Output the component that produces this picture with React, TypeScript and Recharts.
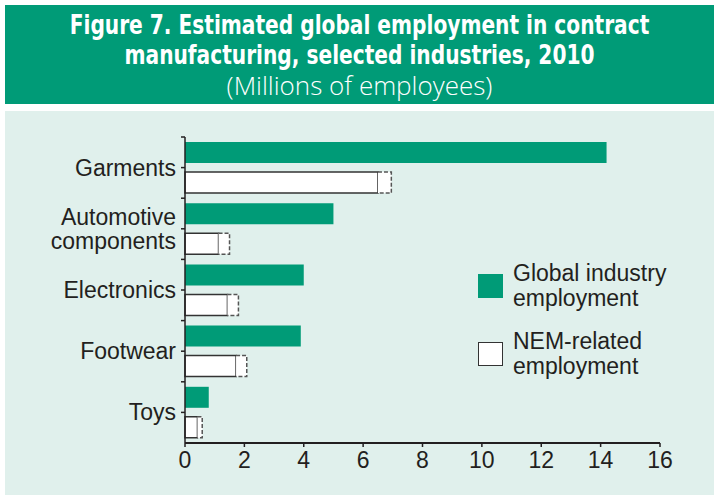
import React from 'react';
import { BarChart, Bar, XAxis, YAxis } from 'recharts';

const categories = ['Garments', 'Automotive components', 'Electronics', 'Footwear', 'Toys'];
const globalEmployment = [14.2, 5.0, 4.0, 3.9, 0.8];
const nemLow = [6.5, 1.13, 1.43, 1.72, 0.42];
const nemHigh = [6.95, 1.5, 1.8, 2.08, 0.58];
const xTicks = [0, 2, 4, 6, 8, 10, 12, 14, 16];

const GREEN = '#009B77';
const PANEL = '#E0F0EC';
const INK = '#231F20';
const SANS = "'Liberation Sans', Arial, sans-serif";

const W = 714;
const H = 495;
const PLOT_LEFT = 185;
const PLOT_RIGHT = 660;
const PLOT_TOP = 137;
const PLOT_BOTTOM = 443;
const BAND = (PLOT_BOTTOM - PLOT_TOP) / categories.length;

const data = categories.map((name, i) => ({
  name,
  global: globalEmployment[i],
  nem: nemLow[i],
  nemRange: +(nemHigh[i] - nemLow[i]).toFixed(3),
}));

const CategoryTick = (props: any) => {
  const { y, payload } = props;
  const words: string[] = payload.value.split(' ');
  const lineH = 24;
  const start = y - ((words.length - 1) * lineH) / 2;
  return (
    <g>
      <line x1={PLOT_LEFT - 4} x2={PLOT_LEFT} y1={y} y2={y} stroke={INK} strokeWidth={1.5} />
      <line x1={PLOT_LEFT - 4} x2={PLOT_LEFT} y1={y - BAND / 2} y2={y - BAND / 2} stroke={INK} strokeWidth={1.5} />
      <text x={PLOT_LEFT - 9} y={start} textAnchor="end" fontSize={23} fill={INK} fontFamily={SANS}>
        {words.map((w, i) => (
          <tspan key={i} x={PLOT_LEFT - 9} y={start + i * lineH} dominantBaseline="central">
            {w}
          </tspan>
        ))}
      </text>
    </g>
  );
};

const DashedCap = (props: any) => {
  const { x, y, width, height } = props;
  if (!width) return null;
  return (
    <g>
      <rect x={x} y={y} width={width} height={height} fill="#fff" />
      <path
        d={`M${x},${y} H${x + width} V${y + height} H${x}`}
        fill="none"
        stroke="#555"
        strokeWidth={1.5}
        strokeDasharray="4 2"
      />
    </g>
  );
};

const legendItems = [
  { fill: GREEN, stroke: 'none', lines: ['Global industry', 'employment'] },
  { fill: '#fff', stroke: '#333', lines: ['NEM-related', 'employment'] },
];

const LegendBox = () => (
  <div style={{ position: 'absolute', left: 478, top: 261, fontFamily: SANS, color: INK }}>
    {legendItems.map((it, i) => (
      <div key={i} style={{ display: 'flex', alignItems: 'center', marginBottom: i === 0 ? 18 : 0 }}>
        <div
          style={{
            width: it.stroke === 'none' ? 25 : 23,
            height: it.stroke === 'none' ? 24 : 22,
            background: it.fill,
            border: it.stroke === 'none' ? 'none' : `1px solid ${it.stroke}`,
            marginRight: 10,
            flexShrink: 0,
          }}
        />
        <div style={{ fontSize: 23, lineHeight: '25px', whiteSpace: 'nowrap' }}>
          {it.lines.map((l, j) => (
            <div key={j}>{l}</div>
          ))}
        </div>
      </div>
    ))}
  </div>
);

export default function App() {
  return (
    <div style={{ position: 'absolute', left: 0, top: 0, width: W, height: H, background: '#fff', overflow: 'hidden' }}>
      <div
        style={{
          position: 'absolute',
          left: 5,
          top: 5,
          width: 709,
          height: 99,
          background: GREEN,
          color: '#fff',
          textAlign: 'center',
        }}
      >
        <div
          style={{
            fontFamily: "'DejaVu Sans Condensed', 'DejaVu Sans', sans-serif",
            fontWeight: 'bold',
            fontSize: 27,
            lineHeight: '30px',
            marginTop: 5,
            transform: 'scaleX(0.83)',
            whiteSpace: 'nowrap',
          }}
        >
          <div>Figure 7. Estimated global employment in contract</div>
          <div>manufacturing, selected industries, 2010</div>
        </div>
        <div style={{ fontFamily: "'Open Sans', sans-serif", fontWeight: 300, fontSize: 26, lineHeight: '30px' }}>
          (Millions of employees)
        </div>
      </div>
      <div style={{ position: 'absolute', left: 5, top: 111, width: 709, height: 384, background: PANEL }} />
      <div style={{ position: 'absolute', left: 0, top: 0 }}>
        <BarChart
          width={W}
          height={H}
          data={data}
          layout="vertical"
          margin={{ top: PLOT_TOP, right: W - PLOT_RIGHT, bottom: 12, left: 0 }}
          barSize={21}
          barGap={9}
        >
          <XAxis
            type="number"
            domain={[0, 16]}
            ticks={xTicks}
            interval={0}
            height={H - 12 - PLOT_BOTTOM}
            axisLine={{ stroke: INK, strokeWidth: 2 }}
            tickLine={{ stroke: INK, strokeWidth: 1.5 }}
            tickSize={4}
            tickMargin={5}
            tick={{ fill: INK, fontSize: 23, fontFamily: SANS }}
          />
          <YAxis
            type="category"
            dataKey="name"
            width={PLOT_LEFT}
            axisLine={{ stroke: INK, strokeWidth: 1.5 }}
            tickLine={false}
            tick={<CategoryTick />}
            interval={0}
          />
          <Bar dataKey="global" stackId="global" fill={GREEN} isAnimationActive={false} />
          <Bar dataKey="nem" stackId="nem" fill="#fff" stroke="#333" strokeWidth={1.5} isAnimationActive={false} />
          <Bar dataKey="nemRange" stackId="nem" fill="#fff" shape={<DashedCap />} isAnimationActive={false} />
        </BarChart>
      </div>
      <LegendBox />
    </div>
  );
}
